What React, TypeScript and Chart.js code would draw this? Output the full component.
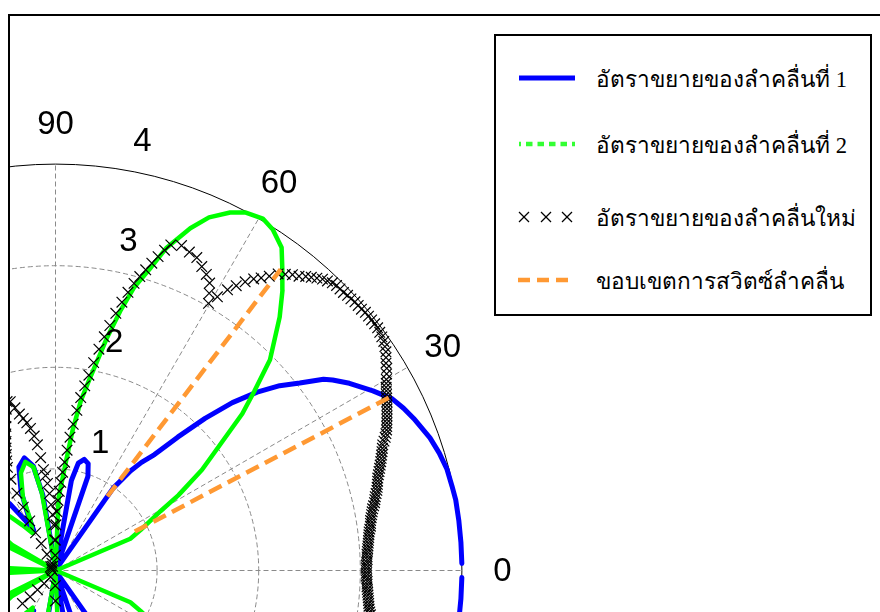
import React, { useEffect, useRef } from "react";
import { Chart, registerables } from "chart.js";

Chart.register(...registerables);

// ---------------- data (angle in degrees, radius in gain units) ----------------
const BEAM1_ANGLES = [
  1, 4, 7, 10, 12, 14.5, 17, 19.5, 23, 25, 27, 29.5, 32.5, 34.5, 35.5, 37.5, 39.5, 41.5, 43.5, 45.5,
  47.5, 49.5, 51.5, 53, 55, 57.5, 61, 64.5, 68, 71, 73, 75.5, 78, 80, 84, 92, 99.5, 102, 105.5, 109.5,
  113.5, 116.5, 118.5, 121, 124.5, 130, 140, 150, 160, 170, 180,
  -170, -160, -150, -140, -130, -124.5, -121, -118.5, -116.5, -113.5, -109.5, -105.5, -102, -99.5, -92, -84,
  -80, -78, -75.5, -73, -71, -68, -64.5, -61, -57.5, -55, -53, -51.5, -49.5, -47.5, -45.5,
  -43.5, -41.5, -39.5, -37.5, -35.5, -34.5, -32.5, -29.5, -27, -25, -23, -19.5, -17, -14.5, -12,
  -10, -7, -4, -1,
];
const BEAM1_GAIN = [
  4.0, 4.0, 4.0, 4.0, 3.99, 3.98, 3.95, 3.91, 3.83, 3.78, 3.72, 3.59, 3.43, 3.31, 3.24, 3.03, 2.86, 2.65, 2.4, 2.1,
  1.78, 1.5, 1.36, 1.23, 0.99, 0.03, 0.04, 0.03, 0.02, 0.98, 1.1, 1.13, 1.08, 0.9, 0.03, 0.03, 0.75, 1.05, 1.15, 1.08,
  0.85, 0.6, 0.45, 0.57, 0.8, 1.3, 2.2, 3.0, 3.6, 3.9, 4.0,
  3.9, 3.6, 3.0, 2.2, 1.3, 0.8, 0.57, 0.45, 0.6, 0.85, 1.08, 1.15, 1.05, 0.75, 0.03, 0.03,
  0.9, 1.08, 1.13, 1.1, 0.98, 0.02, 0.03, 0.04, 0.03, 0.99, 1.23, 1.36, 1.5, 1.78, 2.1,
  2.4, 2.65, 2.86, 3.03, 3.24, 3.31, 3.43, 3.59, 3.72, 3.78, 3.83, 3.91, 3.95, 3.98, 3.99,
  4.0, 4.0, 4.0, 4.0,
];

const BEAM2_ANGLES = [
  0, 10, 18, 21.5, 23, 25.5, 29.5, 31.5, 34.5, 37.5, 40, 42, 44.5, 48.5, 51, 53, 55, 57.5, 59.5, 62,
  64, 66.5, 68.5, 71, 72.5, 74.5, 76, 77.5, 80, 81.5, 83, 84.5, 87.5, 90, 92, 100, 102, 105.5, 109.5, 114,
  116.5, 121.5, 126, 130, 137, 144, 149.5, 151.5, 153.5, 165, 177, 179.5,
  -179.5, -177, -165, -153.5, -151.5, -149.5, -144, -137, -130, -126, -121.5, -116.5, -114, -109.5, -105.5, -102,
  -100, -92, -90, -87.5, -84.5, -83, -81.5, -80, -77.5, -76, -74.5, -72.5, -71, -68.5, -66.5, -64,
  -62, -59.5, -57.5, -55, -53, -51, -48.5, -44.5, -42, -40, -37.5, -34.5, -31.5, -29.5, -25.5, -23,
  -21.5, -18, -10, 0,
];
const BEAM2_GAIN = [
  0.03, 0.02, 0.03, 0.06, 0.8, 0.93, 1.19, 1.42, 1.75, 2.05, 2.4, 2.63, 2.96, 3.33, 3.55, 3.71, 3.88, 3.98, 4.02, 3.99,
  3.92, 3.79, 3.62, 3.36, 3.13, 2.89, 2.63, 2.35, 1.9, 1.69, 1.4, 1.08, 0.72, 0.03, 0.02, 0.78, 1.04, 1.11, 1.02, 0.79,
  0.55, 0.43, 0.55, 0.69, 0.95, 0.85, 0.5, 0.02, 0.55, 0.9, 0.55, 0.02,
  0.02, 0.55, 0.9, 0.55, 0.02, 0.5, 0.85, 0.95, 0.69, 0.55, 0.43, 0.55, 0.79, 1.02, 1.11, 1.04,
  0.78, 0.02, 0.03, 0.72, 1.08, 1.4, 1.69, 1.9, 2.35, 2.63, 2.89, 3.13, 3.36, 3.62, 3.79, 3.92,
  3.99, 4.02, 3.98, 3.88, 3.71, 3.55, 3.33, 2.96, 2.63, 2.4, 2.05, 1.75, 1.42, 1.19, 0.93, 0.8,
  0.06, 0.03, 0.02, 0.03,
];

const NEW_BEAM_ANGLES = [
  -8, -7.5, -7, -6.5, -6, -5.5, -5, -4.5, -4, -3.5, -3, -2.5, -2, -1.5, -1, -0.5,
  0, 0.5, 1, 1.5, 2, 2.5, 3, 3.5, 4, 4.5, 5, 5.5, 6, 6.5, 7, 7.5, 8, 8.5, 9, 9.5,
  10, 10.5, 11, 11.5, 12, 12.5, 13, 13.5, 14, 14.5, 15, 15.5, 16, 16.5, 17, 17.5, 18, 18.5, 19, 19.5,
  20, 20.5, 21, 21.5, 22, 22.5, 23, 23.5, 24, 24.5, 25, 25.5, 26, 26.5, 27, 27.5, 28, 28.5, 29, 29.5, 30,
  30.7, 31.4, 32.1, 32.8, 33.5, 34.2, 34.9, 35.6, 36.3, 37, 37.7, 38.4, 39.1, 39.8, 40.5, 41.2, 41.9, 42.6,
  43.3, 44, 44.7, 45.4, 46.1, 46.8, 47.5, 48.2, 48.9, 49.6,
  50.4, 51.3, 52.2, 53.1, 54, 54.9, 55.8, 56.7, 57.6, 58.5, 59.4, 60.2, 61, 61.8,
  63, 64.3, 65.7, 67.2, 68.8,
  70.5, 71.2, 71.9, 72.6, 73.3, 74, 74.7, 75.4, 76.1, 76.8, 77.5, 78.2, 78.9, 79.6, 80.3, 81, 81.7, 82.4, 83.1, 83.8,
  84.5, 85.2, 85.9, 86.6, 87.3, 88, 88.7, 89.4, 90.1, 90.8,
  91.5, 92.2, 93, 93.8, 94.5, 95.3, 96, 96.8, 97.5, 98.2, 99, 100, 101, 102, 103, 104, 105, 106, 107, 108,
  109, 110, 111, 112, 113, 114, 115, 116, 116.5, 117, 117.5, 117.8, 117.9, 117.6, 116.5, 125, 140, 160, 180,
  -90.1, -90.8, -128, -131, -133, -134, -135,
];
const NEW_BEAM_GAIN = [
  3.13, 3.12, 3.11, 3.105, 3.1, 3.095, 3.09, 3.085, 3.08, 3.075, 3.07, 3.07, 3.07, 3.065, 3.06, 3.06,
  3.06, 3.06, 3.06, 3.065, 3.07, 3.07, 3.07, 3.075, 3.08, 3.085, 3.09, 3.095, 3.1, 3.105, 3.11, 3.12, 3.13, 3.135, 3.14, 3.15,
  3.16, 3.17, 3.18, 3.195, 3.21, 3.22, 3.23, 3.245, 3.26, 3.27, 3.28, 3.29, 3.3, 3.315, 3.33, 3.345, 3.36, 3.375, 3.39, 3.405,
  3.42, 3.435, 3.45, 3.475, 3.5, 3.52, 3.54, 3.555, 3.57, 3.585, 3.6, 3.615, 3.63, 3.645, 3.66, 3.675, 3.69, 3.705, 3.72, 3.74, 3.76,
  3.79, 3.82, 3.84, 3.87, 3.9, 3.92, 3.94, 3.95, 3.96, 3.97, 3.97, 3.97, 3.97, 3.97, 3.96, 3.96, 3.96, 3.95,
  3.95, 3.94, 3.94, 3.94, 3.93, 3.91, 3.89, 3.86, 3.83, 3.8,
  3.76, 3.73, 3.69, 3.65, 3.58, 3.52, 3.47, 3.4, 3.32, 3.24, 3.13, 3.03, 3.12, 3.21,
  3.27, 3.32, 3.38, 3.4, 3.43,
  3.4, 3.33, 3.25, 3.17, 3.09, 3.01, 2.93, 2.83, 2.72, 2.6, 2.47, 2.35, 2.22, 2.08, 1.95, 1.84, 1.72, 1.59, 1.45, 1.32,
  1.19, 1.07, 0.97, 0.87, 0.78, 0.69, 0.58, 0.45, 0.3, 0.15,
  0.3, 0.45, 0.55, 0.65, 0.76, 0.86, 0.94, 1.0, 1.12, 1.25, 1.34, 1.42, 1.48, 1.53, 1.58, 1.65, 1.72, 1.73, 1.66, 1.58,
  1.5, 1.43, 1.36, 1.3, 1.24, 1.18, 1.12, 1.0, 0.85, 0.7, 0.55, 0.42, 0.3, 0.18, 0.08, 0.05, 0.06, 0.04, 0.03,
  0.3, 0.15, 0.08, 0.17, 0.26, 0.36, 0.46,
];

const SWITCH_LOW_ANGLES = [26.2, 27.4];
const SWITCH_LOW_GAIN = [0.87, 3.71];
const SWITCH_HIGH_ANGLES = [55.0, 53.2];
const SWITCH_HIGH_GAIN = [0.89, 3.7];

const RADIAL_TICKS = [1, 2, 3, 4];
const ANGLE_TICKS = [0, 30, 60, 90, 120, 150, 180, 210, 240, 270, 300, 330];

const LEGEND_LABELS = [
  "อัตราขยายของลำคลื่นที่ 1",
  "อัตราขยายของลำคลื่นที่ 2",
  "อัตราขยายของลำคลื่นใหม่",
  "ขอบเขตการสวิตซ์ลำคลื่น",
];

// ---------------- layout ----------------
const CANVAS_W = 870;
const CANVAS_H = 596;
const ORIGIN_X = 45.5; // canvas px
const ORIGIN_Y = 554.5;
const PX_PER_UNIT = 101.6;

const BLUE = "#0000ff";
const GREEN = "#00ff00";
const ORANGE = "#ff9933";

const deg = Math.PI / 180;
function toXY(angles: number[], gains: number[]) {
  return angles.map((a, i) => ({ x: gains[i] * Math.cos(a * deg), y: gains[i] * Math.sin(a * deg) }));
}

const polarGrid = {
  id: "polarGrid",
  beforeDatasetsDraw(chart: any) {
    const { ctx } = chart;
    const xs = chart.scales.x;
    const ys = chart.scales.y;
    const cx = xs.getPixelForValue(0);
    const cy = ys.getPixelForValue(0);
    const unit = xs.getPixelForValue(1) - cx;
    const rMax = RADIAL_TICKS[RADIAL_TICKS.length - 1];
    ctx.save();
    ctx.strokeStyle = "#8a8a8a";
    ctx.lineWidth = 1;
    ctx.setLineDash([5, 3]);
    RADIAL_TICKS.slice(0, -1).forEach((r) => {
      ctx.beginPath();
      ctx.arc(cx, cy, r * unit, 0, Math.PI * 2);
      ctx.stroke();
    });
    ANGLE_TICKS.forEach((a) => {
      ctx.beginPath();
      ctx.moveTo(cx, cy);
      ctx.lineTo(xs.getPixelForValue(rMax * Math.cos(a * deg)), ys.getPixelForValue(rMax * Math.sin(a * deg)));
      ctx.stroke();
    });
    ctx.setLineDash([]);
    ctx.strokeStyle = "#000";
    ctx.beginPath();
    ctx.arc(cx, cy, rMax * unit, 0, Math.PI * 2);
    ctx.stroke();
    ctx.restore();
  },
  afterDatasetsDraw(chart: any) {
    const { ctx } = chart;
    const xs = chart.scales.x;
    const ys = chart.scales.y;
    const rMax = RADIAL_TICKS[RADIAL_TICKS.length - 1];
    ctx.save();
    ctx.fillStyle = "#000";
    ctx.font = '33px "Liberation Sans", Arial, sans-serif';
    ctx.textAlign = "center";
    ctx.textBaseline = "middle";
    const labelR = rMax * 1.1;
    ANGLE_TICKS.forEach((a) => {
      ctx.fillText(
        String(a),
        xs.getPixelForValue(labelR * Math.cos(a * deg)),
        ys.getPixelForValue(labelR * Math.sin(a * deg)) + 1
      );
    });
    RADIAL_TICKS.forEach((r) => {
      const vx = r * Math.cos(82 * deg) + 0.3;
      const vy = r * Math.sin(82 * deg) + 0.27;
      ctx.fillText(String(r), xs.getPixelForValue(vx), ys.getPixelForValue(vy) + 1);
    });
    ctx.restore();
  },
};

function PolarChart() {
  const ref = useRef<HTMLCanvasElement | null>(null);
  useEffect(() => {
    if (!ref.current) return;
    const lineBase = { showLine: true, pointRadius: 0, fill: false, tension: 0, borderJoinStyle: "round" as const };
    const chart = new Chart(ref.current, {
      type: "scatter",
      data: {
        datasets: [
          {
            ...lineBase,
            label: LEGEND_LABELS[3],
            data: toXY(SWITCH_LOW_ANGLES, SWITCH_LOW_GAIN),
            borderColor: ORANGE,
            borderWidth: 4.5,
            borderDash: [14, 7],
            borderCapStyle: "butt",
            order: 0,
          },
          {
            ...lineBase,
            label: LEGEND_LABELS[3] + " (2)",
            data: toXY(SWITCH_HIGH_ANGLES, SWITCH_HIGH_GAIN),
            borderColor: ORANGE,
            borderWidth: 4.5,
            borderDash: [14, 7],
            borderCapStyle: "butt",
            order: 0,
          },
          {
            label: LEGEND_LABELS[2],
            data: toXY(NEW_BEAM_ANGLES, NEW_BEAM_GAIN),
            showLine: false,
            pointStyle: "crossRot",
            pointRadius: 7.5,
            pointBorderWidth: 1.2,
            borderColor: "#000",
            pointBorderColor: "#000",
            backgroundColor: "rgba(0,0,0,0)",
            order: 1,
          },
          {
            ...lineBase,
            label: LEGEND_LABELS[1],
            data: toXY(BEAM2_ANGLES, BEAM2_GAIN),
            borderColor: GREEN,
            borderWidth: 4.5,
            borderCapStyle: "round",
            order: 2,
          },
          {
            ...lineBase,
            label: LEGEND_LABELS[0],
            data: toXY(BEAM1_ANGLES, BEAM1_GAIN),
            borderColor: BLUE,
            borderWidth: 5,
            borderCapStyle: "round",
            order: 3,
          },
        ],
      },
      options: {
        animation: false,
        responsive: false,
        events: [],
        layout: { padding: 0, autoPadding: false },
        plugins: { legend: { display: false }, tooltip: { enabled: false } },
        scales: {
          x: {
            type: "linear",
            display: false,
            min: -ORIGIN_X / PX_PER_UNIT,
            max: (CANVAS_W - ORIGIN_X) / PX_PER_UNIT,
          },
          y: {
            type: "linear",
            display: false,
            min: -(CANVAS_H - ORIGIN_Y) / PX_PER_UNIT,
            max: ORIGIN_Y / PX_PER_UNIT,
          },
        },
      },
      plugins: [polarGrid],
    } as any);
    return () => chart.destroy();
  }, []);
  return <canvas ref={ref} width={CANVAS_W} height={CANVAS_H} style={{ display: "block" }} />;
}

const LEGEND_ROWS_Y = [42, 108, 181, 244];

function Legend() {
  const textStyle: React.CSSProperties = {
    position: "absolute",
    left: 100,
    height: 34,
    lineHeight: "34px",
    fontFamily: '"Liberation Serif", "DejaVu Serif", serif',
    fontSize: 22.6,
    color: "#000",
    whiteSpace: "nowrap",
  };
  return (
    <div
      style={{
        position: "absolute",
        left: 494,
        top: 34,
        width: 378,
        height: 282,
        border: "2px solid #000",
        boxSizing: "border-box",
        background: "#fff",
      }}
    >
      <svg width={374} height={278} style={{ position: "absolute", left: 0, top: 0 }}>
        <line x1={23} x2={79} y1={LEGEND_ROWS_Y[0]} y2={LEGEND_ROWS_Y[0]} stroke={BLUE} strokeWidth={5} />
        <line
          x1={23}
          x2={79}
          y1={LEGEND_ROWS_Y[1]}
          y2={LEGEND_ROWS_Y[1]}
          stroke="#33ff33"
          strokeWidth={4.5}
          strokeDasharray="2 5 6.5 5 6.5 5 6.5 5 6.5 5 6.5 5"
        />
        {[28, 50, 71].map((cx) => (
          <g key={cx} stroke="#000" strokeWidth={1.2}>
            <line x1={cx - 5} y1={LEGEND_ROWS_Y[2] - 5} x2={cx + 5} y2={LEGEND_ROWS_Y[2] + 5} />
            <line x1={cx - 5} y1={LEGEND_ROWS_Y[2] + 5} x2={cx + 5} y2={LEGEND_ROWS_Y[2] - 5} />
          </g>
        ))}
        <line
          x1={22}
          x2={78}
          y1={LEGEND_ROWS_Y[3]}
          y2={LEGEND_ROWS_Y[3]}
          stroke={ORANGE}
          strokeWidth={4.5}
          strokeDasharray="12 7"
        />
      </svg>
      {LEGEND_LABELS.map((t, i) => (
        <div key={i} style={{ ...textStyle, top: LEGEND_ROWS_Y[i] + 2 - 17 }}>
          {t}
        </div>
      ))}
    </div>
  );
}

export default function App() {
  return (
    <div style={{ position: "absolute", left: 0, top: 0, width: 880, height: 612, background: "#fff", overflow: "hidden" }}>
      <div
        style={{
          position: "absolute",
          left: 8,
          top: 14,
          width: 872,
          height: 598,
          borderLeft: "2px solid #000",
          borderTop: "2px solid #000",
          boxSizing: "border-box",
          overflow: "hidden",
        }}
      >
        <PolarChart />
      </div>
      <Legend />
    </div>
  );
}
